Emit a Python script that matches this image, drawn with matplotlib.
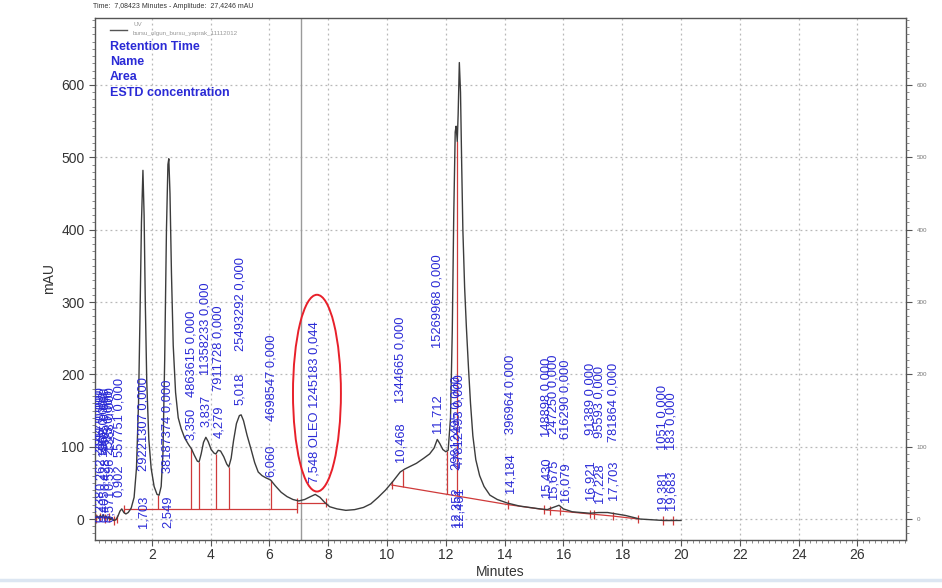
import numpy as np
import matplotlib
matplotlib.use("Agg")
import matplotlib.pyplot as plt
from matplotlib.patches import Ellipse
from matplotlib.lines import Line2D
from matplotlib.ticker import MultipleLocator

plt.rcParams['font.family'] = ['Liberation Sans', 'DejaVu Sans']

# ---- UV chromatogram (minutes, mAU) ----
trace_time = [0.10, 0.15, 0.20, 0.25, 0.30, 0.35, 0.40, 0.45, 0.50, 0.55, 0.60, 0.65,
              0.70, 0.78, 0.85, 0.92, 0.98, 1.05, 1.12, 1.20, 1.30, 1.40, 1.48, 1.55,
              1.60, 1.65, 1.70, 1.74, 1.78, 1.83, 1.90, 1.98, 2.08, 2.18, 2.25, 2.32,
              2.38, 2.44, 2.50, 2.55, 2.58, 2.62, 2.67, 2.73, 2.81, 2.90, 3.00, 3.12,
              3.25, 3.35, 3.45, 3.55, 3.61, 3.68, 3.76, 3.84, 3.92, 4.02, 4.12, 4.18,
              4.26, 4.34, 4.45, 4.55, 4.62, 4.70, 4.78, 4.88, 4.98, 5.04, 5.12, 5.24,
              5.38, 5.50, 5.62, 5.75, 5.88, 6.04, 6.20, 6.40, 6.60, 6.80, 7.00, 7.20,
              7.40, 7.56, 7.72, 7.88, 8.05, 8.30, 8.60, 8.90, 9.20, 9.45, 9.70, 9.95,
              10.20, 10.45, 10.60, 10.80, 11.00, 11.25, 11.45, 11.60, 11.71, 11.80, 11.90,
              12.00, 12.08, 12.16, 12.22, 12.27, 12.32, 12.35, 12.39, 12.42, 12.46, 12.50,
              12.54, 12.58, 12.64, 12.70, 12.77, 12.84, 12.92, 13.02, 13.15, 13.30, 13.50,
              13.75, 14.10, 14.50, 14.85, 15.20, 15.45, 15.65, 15.85, 16.00, 16.30, 16.60,
              16.90, 17.20, 17.50, 17.80, 18.10, 18.40, 18.60, 19.00, 19.40, 19.70, 20.00]
trace_mau = [2, 4, 1, 5, 2, 6, 1, 4, 0, 3, -1, 2,
             -2, -1, 4, 11, 14, 9, 7, 9, 15, 30, 70, 160,
             280, 410, 482, 420, 300, 190, 110, 70, 45, 34, 33, 45,
             90, 220, 400, 490, 498, 450, 340, 240, 175, 140, 125, 112,
             103, 97, 88, 80, 79, 90, 106, 113, 107, 96, 91, 90,
             95, 94, 86, 76, 72, 84, 108, 132, 143, 144, 136, 116,
             96, 78, 65, 60, 57, 54, 46, 37, 31, 27, 25, 27,
             31, 34, 30, 23, 17, 14, 12, 13, 16, 21, 30, 40,
             52, 65, 69, 73, 77, 84, 90, 98, 110, 104, 96,
             93, 95, 140, 260, 420, 535, 543, 522, 560, 631, 590,
             490, 400, 320, 265, 210, 160, 115, 82, 60, 45, 33,
             27, 22, 18, 16, 14, 13, 16, 19, 14, 10, 9,
             8, 9, 9, 7, 5, 2, 0, -1, -2, -2, -2]

# ---- integration results ----
peak_rt = [0.238, 0.262, 0.405, 0.428, 0.571, 0.596, 0.902, 1.703, 2.549, 3.350,
           3.837, 4.279, 5.018, 6.060, 7.548, 10.468, 11.712, 12.352, 12.461,
           14.184, 15.430, 15.675, 16.079, 16.921, 17.228, 17.703, 19.381, 19.683]
peak_name = ["", "", "", "", "", "", "", "", "", "",
             "", "", "", "", "OLEO", "", "", "", "",
             "", "", "", "", "", "", "", "", ""]
peak_area = [2144, 3817, 1962, 4405, 2573, 1388, 557751, 29221307, 38187374, 4863615,
             11358233, 7911728, 25493292, 4698547, 1245183, 1344665, 15269968, 29812495,
             47812493, 396964, 148898, 247250, 616290, 91389, 95593, 781864, 1051, 183]
peak_conc = [0.000, 0.000, 0.000, 0.000, 0.000, 0.000, 0.000, 0.000, 0.000, 0.000,
             0.000, 0.000, 0.000, 0.000, 0.044, 0.000, 0.000, 0.000, 0.000,
             0.000, 0.000, 0.000, 0.000, 0.000, 0.000, 0.000, 0.000, 0.000]

# where each peak's retention-time label and area label start (mAU)
rt_label_base = [-4, 40, -4, 40, -4, 40, 30, -12, -12, 109,
                 127, 112, 158, 58, 50, 79, 119, -11, -11,
                 36, 30, 27, 24, 26, 22, 26, 12, 12]
info_label_base = [88, 92, 86, 91, 88, 93, 86, 66, 64, 168,
                   199, 177, 232, 135, 0, 160, 236, 68, 70,
                   118, 113, 117, 110, 116, 112, 106, 96, 95]

# baselines drawn by the integrator (minutes / mAU)
baseline_t = [[0.10, 0.24, 0.40, 0.55, 0.70, 0.82],
              [1.05, 6.93],
              [6.93, 7.93],
              [10.16, 14.10, 15.35, 15.55, 15.90, 16.90, 17.05, 17.70, 18.55],
              [19.40, 19.72]]
baseline_v = [[1, 3, 1, 2, -2, 0],
              [14, 14],
              [22.5, 22.5],
              [47, 20, 13, 12, 11, 7, 6.5, 4, 0],
              [-2, -2]]
drop_line_t = [2.22, 3.34, 3.61, 4.17, 4.62, 6.04, 10.55, 12.04, 12.39]

cursor_time = 7.08423
cursor_amplitude = 27.4246

blue = '#2a2ad6'
red = '#cf3a3a'
label_size = 9.3

fig = plt.figure(figsize=(9.42, 5.88), dpi=100)
W, H = 942, 588
ax = fig.add_axes([95 / W, 1 - 540 / H, (906 - 95) / W, (540 - 18) / H])
ax.set_xlim(0.07, 27.65)
ax.set_ylim(-29, 692.6)

# grid
ax.set_xticks(np.arange(2, 27, 2))
ax.set_yticks(np.arange(0, 601, 100))
ax.xaxis.set_minor_locator(MultipleLocator(0.2))
ax.yaxis.set_minor_locator(MultipleLocator(10))
ax.grid(True, which='major', linestyle=(0, (1.5, 2.5)), color='#b8b8b8', linewidth=0.9)
ax.set_axisbelow(True)

for s in ax.spines.values():
    s.set_color('#555555')
    s.set_linewidth(1.0)
ax.tick_params(axis='both', which='major', direction='out', length=4, width=0.8,
               colors='#555555', labelcolor='#333333', labelsize=10)
ax.tick_params(axis='both', which='minor', direction='out', length=2, width=0.6,
               colors='#777777')
ax.tick_params(axis='x', pad=2)

# cursor line
ax.axvline(cursor_time, color='#9a9a9a', linewidth=1.0, zorder=1)

# baselines with boundary ticks
for bt, bv in zip(baseline_t, baseline_v):
    ax.plot(bt, bv, color=red, linewidth=0.9, zorder=2)
    ax.vlines(bt, np.array(bv) - 6, np.array(bv) + 6, color=red, linewidth=0.9, zorder=2)

# drop lines from baseline up to the signal
for t in drop_line_t:
    for bt, bv in zip(baseline_t, baseline_v):
        if bt[0] <= t <= bt[-1]:
            lo = np.interp(t, bt, bv)
            hi = np.interp(t, trace_time, trace_mau)
            ax.vlines(t, lo, hi, color=red, linewidth=0.9, zorder=2)
            break

# signal
ax.plot(trace_time, trace_mau, color='#3c3c3c', linewidth=1.0, zorder=3)


def fmt(x, nd):
    return f"{x:.{nd}f}".replace('.', ',')


# peak annotations
for rt, name, area, conc, yb, yi in zip(peak_rt, peak_name, peak_area, peak_conc,
                                        rt_label_base, info_label_base):
    if name:
        ax.text(rt, yb, f"{fmt(rt, 3)} {name} {area} {fmt(conc, 3)}", rotation=90,
                ha='center', va='bottom', fontsize=label_size, color=blue, zorder=4,
                clip_on=True)
    else:
        ax.text(rt, yb, fmt(rt, 3), rotation=90, ha='center', va='bottom',
                fontsize=label_size, color=blue, zorder=4, clip_on=True)
        ax.text(rt, yi, f"{area} {fmt(conc, 3)}", rotation=90, ha='center',
                va='bottom', fontsize=label_size, color=blue, zorder=4, clip_on=True)

# highlighted oleuropein peak
oleo = peak_name.index("OLEO")
ax.add_patch(Ellipse((peak_rt[oleo] + 0.07, 174), width=1.63, height=272, fill=False,
                     edgecolor='#e8202a', linewidth=1.4, zorder=5))

ax.set_xlabel("Minutes", fontsize=10, color='#333333', labelpad=2)
ax.set_ylabel("mAU", fontsize=10, color='#333333', labelpad=4)

# right-hand amplitude axis
ax2 = ax.twinx()
ax2.set_ylim(ax.get_ylim())
ax2.set_yticks(np.arange(0, 601, 100))
ax2.yaxis.set_minor_locator(MultipleLocator(10))
ax2.tick_params(axis='y', which='major', direction='out', length=4, width=0.8,
                colors='#555555', labelcolor='#777777', labelsize=4.5)
ax2.tick_params(axis='y', which='minor', direction='out', length=2, width=0.6,
                colors='#777777')
for s in ax2.spines.values():
    s.set_visible(False)

# header text
fig.text(93 / W, 1 - 7 / H, f"Time:  {fmt(cursor_time, 5)} Minutes - Amplitude:  "
         f"{fmt(cursor_amplitude, 4)} mAU", fontsize=5, color='#333333', va='center')
fig.add_artist(Line2D([110 / W, 127 / W], [1 - 30 / H, 1 - 30 / H], color='#555555',
                      linewidth=1.0))
fig.text(133 / W, 1 - 25 / H, "UV", fontsize=4.5, color='#999999', va='center')
fig.text(133 / W, 1 - 33 / H, "bursu_olgun_bursu_yaprak_11112012", fontsize=4.5,
         color='#999999', va='center')
for i, lab in enumerate(["Retention Time", "Name", "Area", "ESTD concentration"]):
    fig.text(110 / W, 1 - (46.5 + 15.5 * i) / H, lab, fontsize=9, fontweight='bold',
             color=blue, va='center')

# window edge strip
fig.add_artist(Line2D([0, 1], [1 - 580 / H, 1 - 580 / H], color='#dce6f2', linewidth=2.5))

fig.savefig("out.png", dpi=100)
